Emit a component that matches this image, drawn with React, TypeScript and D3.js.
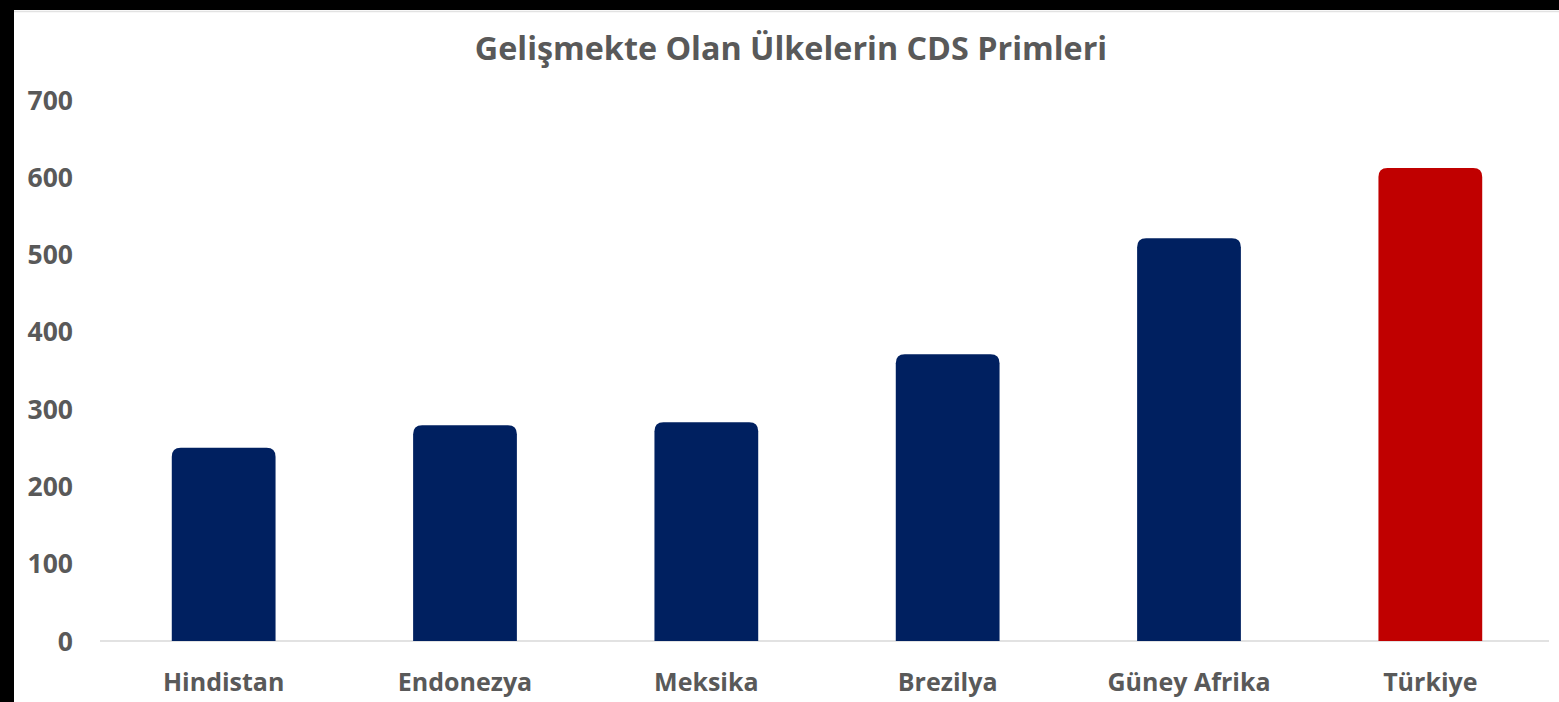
import React from "react";
import * as d3 from "d3";

const categories = ["Hindistan", "Endonezya", "Meksika", "Brezilya", "Güney Afrika", "Türkiye"];
const values = [250, 279, 283, 371, 521, 612];
const barColors = ["#002060", "#002060", "#002060", "#002060", "#002060", "#C00000"];
const yTicks = [0, 100, 200, 300, 400, 500, 600, 700];
const title = "Gelişmekte Olan Ülkelerin CDS Primleri";

const W = 1559;
const H = 702;

export default function App() {
  const x = d3.scaleBand<string>().domain(categories).range([103, 1551]).paddingInner(0.57).paddingOuter(0.285);
  const y = d3.scaleLinear().domain([0, 700]).range([641, 100]);
  const r = 9;
  const font = "'Open Sans', sans-serif";
  const barPath = (x0: number, w: number, top: number, bottom: number) => {
    const rr = Math.min(r, w / 2, bottom - top);
    return `M${x0},${bottom}V${top + rr}Q${x0},${top} ${x0 + rr},${top}H${x0 + w - rr}Q${x0 + w},${top} ${x0 + w},${top + rr}V${bottom}Z`;
  };
  return (
    <div style={{ position: "fixed", left: 0, top: 0, width: W, height: H, background: "#000" }}>
      <svg width={W} height={H} style={{ display: "block" }}>
        <rect x={0} y={0} width={W} height={H} fill="#000" />
        <rect x={14} y={10} width={W - 14} height={H - 10} fill="#fff" />
        <line x1={14} x2={W} y1={11.5} y2={11.5} stroke="#e2e2e2" strokeWidth={1.5} />
        <text x={791} y={60} textAnchor="middle" fontFamily={font} fontWeight={700} fontSize={32.3} fill="#595959">
          {title}
        </text>
        {yTicks.map((t) => (
          <text key={t} x={73} y={y(t)} dy="0.36em" textAnchor="end" fontFamily={font} fontWeight={700} fontSize={26.5} fill="#595959">
            {t}
          </text>
        ))}
        <line x1={100} x2={1549} y1={y(0)} y2={y(0)} stroke="#d9d9d9" strokeWidth={1.5} />
        {categories.map((c, i) => (
          <path key={c} d={barPath(x(c)!, x.bandwidth(), y(values[i]), y(0))} fill={barColors[i]} />
        ))}
        {categories.map((c) => (
          <text key={c} x={x(c)! + x.bandwidth() / 2} y={691} textAnchor="middle" fontFamily={font} fontWeight={700} fontSize={25} fill="#595959">
            {c}
          </text>
        ))}
      </svg>
    </div>
  );
}
